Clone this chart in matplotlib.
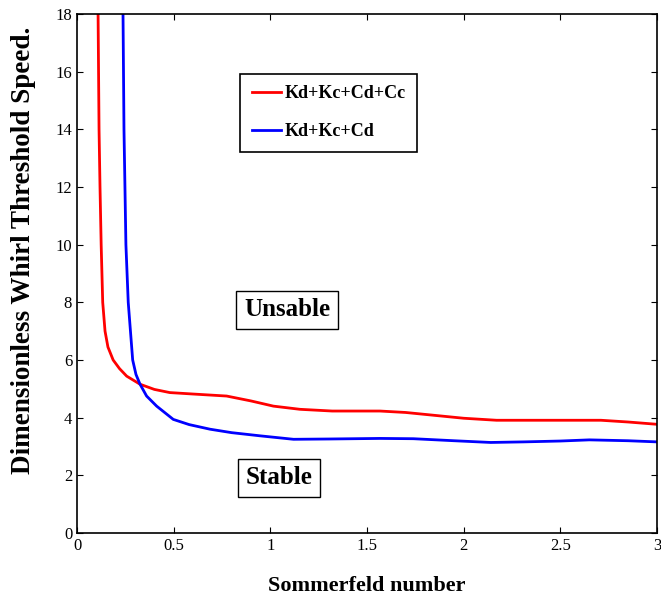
import matplotlib
matplotlib.use("Agg")
import matplotlib.pyplot as plt

plt.rcParams['font.family'] = ['Liberation Serif', 'DejaVu Serif']

# Kd+Kc+Cd+Cc
red_x = [0.109, 0.114, 0.119, 0.125, 0.133, 0.145, 0.160, 0.187, 0.220, 0.257,
         0.326, 0.400, 0.480, 0.600, 0.774, 0.900, 1.016, 1.153, 1.320, 1.567,
         1.700, 1.850, 2.000, 2.170, 2.450, 2.710, 2.850, 3.000]
red_y = [18.0, 14.0, 12.0, 10.0, 8.0, 7.0, 6.45, 6.0, 5.7, 5.44,
         5.16, 4.98, 4.87, 4.82, 4.75, 4.58, 4.40, 4.29, 4.23, 4.23,
         4.18, 4.08, 3.98, 3.91, 3.91, 3.91, 3.85, 3.77]

# Kd+Kc+Cd
blue_x = [0.238, 0.243, 0.248, 0.253, 0.265, 0.288, 0.305, 0.326, 0.360, 0.412,
          0.498, 0.580, 0.688, 0.800, 0.947, 1.120, 1.300, 1.567, 1.740, 1.950,
          2.140, 2.310, 2.500, 2.650, 2.850, 3.000]
blue_y = [18.0, 14.0, 12.0, 10.0, 8.0, 6.0, 5.5, 5.16, 4.75, 4.40,
          3.94, 3.76, 3.60, 3.48, 3.37, 3.25, 3.26, 3.28, 3.27, 3.20,
          3.14, 3.16, 3.19, 3.23, 3.20, 3.16]

fig = plt.figure(figsize=(6.61, 6.01), dpi=100)
ax = fig.add_axes([77 / 661, (601 - 533) / 601, 580 / 661, 519 / 601])

ax.plot(red_x, red_y, color='red', lw=2, label='Kd+Kc+Cd+Cc')
ax.plot(blue_x, blue_y, color='blue', lw=2, label='Kd+Kc+Cd')

ax.set_xlim(0, 3)
ax.set_ylim(0, 18)
ax.set_xticks([0, 0.5, 1, 1.5, 2, 2.5, 3])
ax.set_xticklabels(['0', '0.5', '1', '1.5', '2', '2.5', '3'])
ax.set_yticks(range(0, 19, 2))
ax.tick_params(direction='in', top=True, right=True, labelsize=12, length=4)
for s in ax.spines.values():
    s.set_linewidth(1.2)

ax.set_xlabel('Sommerfeld number', fontsize=16, fontweight='bold', labelpad=16)
ax.set_ylabel('Dimensionless Whirl Threshold Speed.', fontsize=19.5, fontweight='bold')
ax.yaxis.set_label_coords(-0.070, 0.545)

leg = ax.legend(loc='upper left', bbox_to_anchor=(0.281, 0.885),
                prop={'weight': 'bold', 'size': 13}, fancybox=False, edgecolor='black',
                framealpha=1, handlelength=1.6, handletextpad=0.2, borderpad=0.65,
                labelspacing=1.15, borderaxespad=0)
leg.get_frame().set_linewidth(1.2)

box = dict(boxstyle='square,pad=0.3', facecolor='white', edgecolor='black', lw=1)
ax.text(1.086, 7.75, 'Unsable', fontsize=18, fontweight='bold', ha='center', va='center', bbox=box)
ax.text(1.045, 1.92, 'Stable', fontsize=18, fontweight='bold', ha='center', va='center', bbox=box)

fig.savefig('out.png', dpi=100)
